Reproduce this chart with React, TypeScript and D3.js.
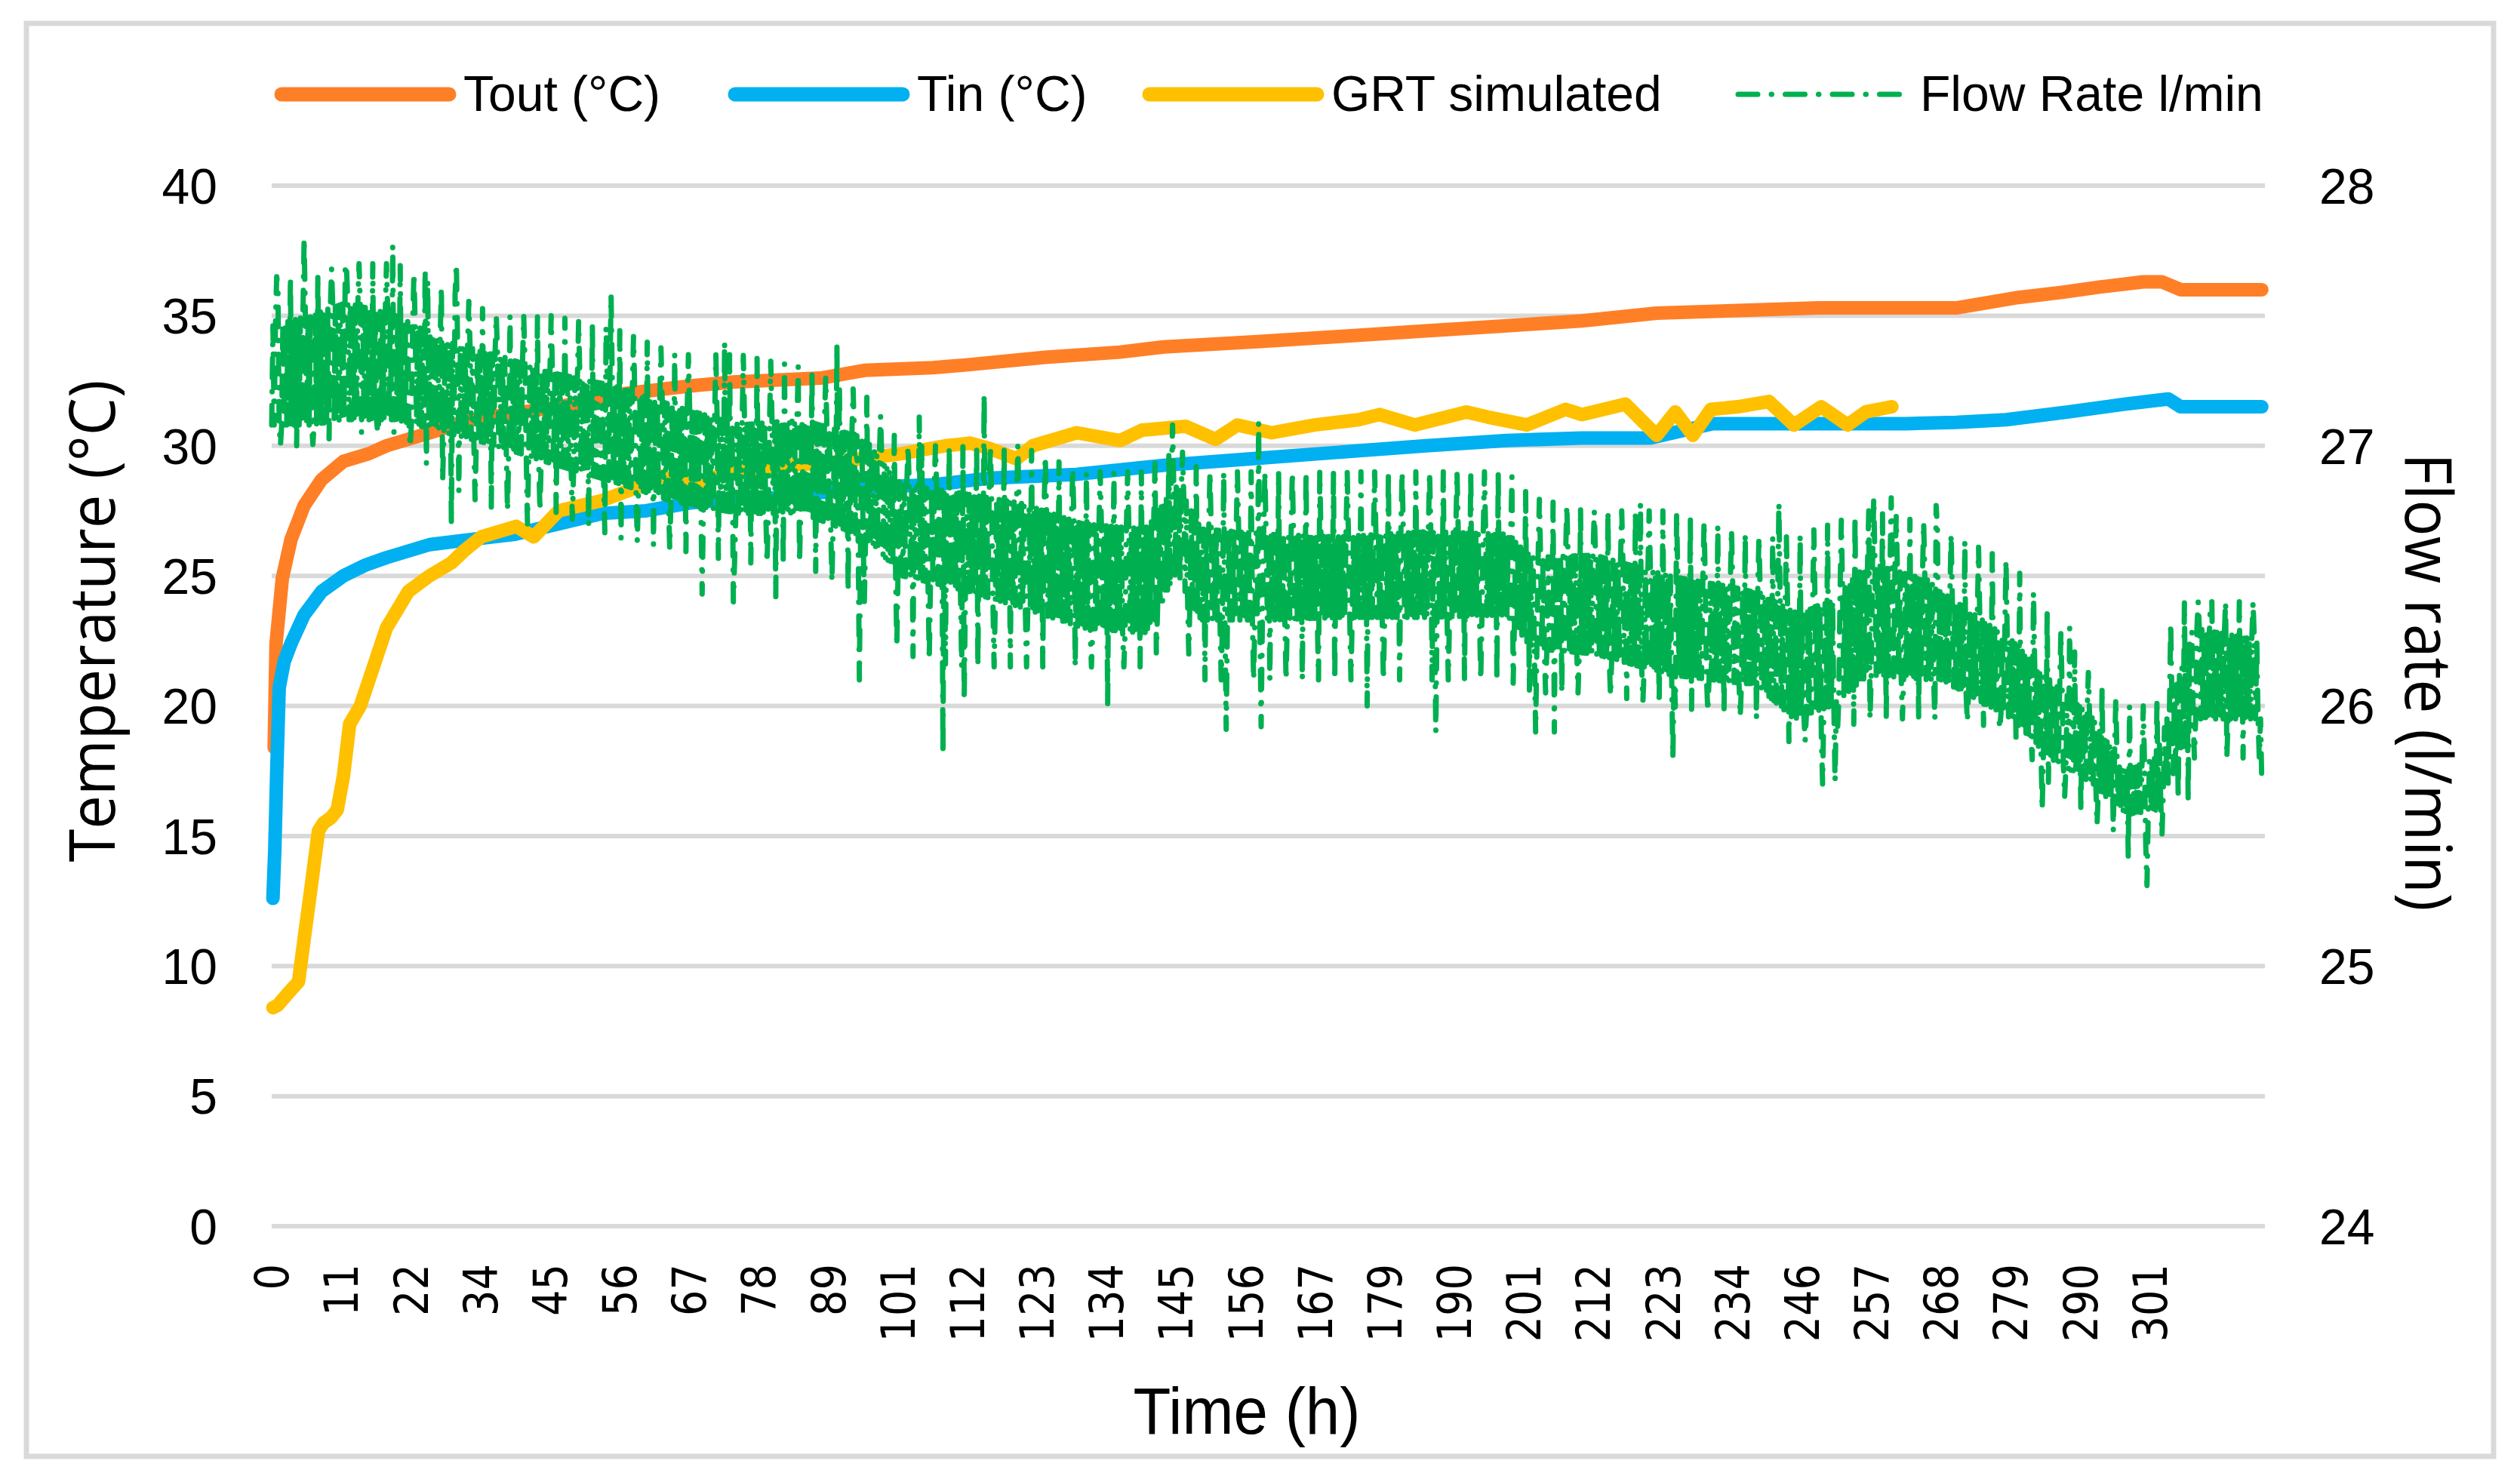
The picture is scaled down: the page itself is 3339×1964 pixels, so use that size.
import React, { useMemo } from 'react';
import * as d3 from 'd3';

const W = 3339;
const H = 1964;
const plot = { left: 360, right: 3001, top: 246, bottom: 1625 };

// category labels on the time axis (Excel prints one every ~11.15 h)
const timeLabels = ['0', '11', '22', '34', '45', '56', '67', '78', '89', '101', '112', '123', '134', '145', '156', '167', '179', '190', '201', '212', '223', '234', '246', '257', '268', '279', '290', '301'];
const labelStepHours = 11.15;
const timeEnd = 319.5;

const tempTicks = [0, 5, 10, 15, 20, 25, 30, 35, 40];
const flowTicks = [24, 25, 26, 27, 28];

// Tout (°C)
const toutTime = [0.4, 0.7, 1.7, 3.1, 5.2, 8, 11.5, 15.6, 18.4, 25.3, 32, 46, 56.5, 67, 74, 88, 95, 106, 111, 124, 136, 143, 158, 171, 184, 197, 210, 222, 235, 248, 260, 270, 275, 280, 287, 293, 300, 303, 306, 319];
const toutValue = [18.4, 22.4, 24.9, 26.4, 27.7, 28.7, 29.4, 29.7, 30.0, 30.5, 31.0, 31.5, 32.0, 32.3, 32.45, 32.6, 32.9, 33.0, 33.1, 33.4, 33.6, 33.8, 34.0, 34.2, 34.4, 34.6, 34.8, 35.1, 35.2, 35.3, 35.3, 35.3, 35.5, 35.7, 35.9, 36.1, 36.3, 36.3, 36.0, 36.0];

// Tin (°C)
const tinTime = [0.2, 0.5, 0.8, 1.2, 2, 3.1, 5.2, 8, 11.5, 14.9, 18.4, 25.3, 32, 39, 46, 53, 60, 67, 74, 81, 88, 95, 106, 115, 129, 143, 157, 171, 185, 198, 210, 221, 231, 248, 262, 270, 278, 288, 297, 304, 306, 319];
const tinValue = [12.6, 14.5, 17.4, 20.7, 21.7, 22.4, 23.5, 24.4, 25.0, 25.4, 25.7, 26.2, 26.4, 26.6, 27.0, 27.4, 27.5, 27.8, 27.95, 28.0, 28.2, 28.4, 28.5, 28.75, 28.9, 29.25, 29.5, 29.75, 30.0, 30.2, 30.3, 30.3, 30.85, 30.85, 30.85, 30.9, 31.0, 31.3, 31.6, 31.8, 31.5, 31.5];

// GRT simulated (°C)
const grtTime = [0.2, 1, 2.8, 4.3, 5.4, 6.3, 7.5, 8.3, 9.5, 10.5, 11.5, 12.5, 14.2, 16.3, 18.4, 21.9, 25.3, 28.8, 31, 33.6, 39.2, 42, 46, 53, 58.6, 61.4, 67, 73.8, 80.8, 91.2, 98, 101, 108, 112, 115, 119.4, 122, 129, 136, 139.5, 146.5, 151.3, 154.8, 160.3, 167.2, 174.2, 177.6, 183.2, 191.5, 195, 201.2, 207.4, 210, 217, 222, 225, 227.8, 230.7, 235, 240, 244, 248.4, 252.6, 255.5, 259.7];
const grtValue = [8.4, 8.5, 9.0, 9.4, 11.4, 13.0, 15.2, 15.5, 15.7, 16.0, 17.3, 19.3, 20.0, 21.5, 23.0, 24.4, 25.0, 25.5, 26.0, 26.5, 26.9, 26.5, 27.5, 27.9, 28.4, 28.9, 28.5, 29.0, 29.2, 29.4, 29.6, 29.7, 30.0, 30.1, 29.9, 29.5, 30.0, 30.5, 30.2, 30.6, 30.75, 30.25, 30.8, 30.5, 30.8, 31.0, 31.2, 30.8, 31.3, 31.1, 30.8, 31.4, 31.2, 31.6, 30.4, 31.3, 30.4, 31.4, 31.5, 31.7, 30.8, 31.5, 30.8, 31.3, 31.5];

// Flow rate (l/min): the readings swing between a low and a high band (core),
// with regular excursions out to a wider outer band
const flowTime = [0, 6, 12, 20, 28, 36, 45, 55, 65, 75, 85, 95, 101, 110, 120, 130, 140, 145, 149, 160, 171, 185, 198, 202, 212, 224, 238, 244, 250, 256, 266, 270, 279, 285, 292, 297, 302, 305, 308, 319];
const flowLow = [27.08, 27.08, 27.10, 27.10, 27.05, 27.00, 26.93, 26.86, 26.78, 26.74, 26.74, 26.65, 26.50, 26.45, 26.38, 26.30, 26.28, 26.50, 26.33, 26.33, 26.34, 26.34, 26.35, 26.22, 26.20, 26.12, 26.08, 25.95, 26.00, 26.12, 26.10, 26.07, 25.95, 25.80, 25.70, 25.58, 25.60, 25.75, 25.95, 25.95];
const flowHigh = [27.46, 27.50, 27.55, 27.50, 27.40, 27.35, 27.28, 27.23, 27.15, 27.08, 27.10, 27.03, 26.85, 26.82, 26.78, 26.70, 26.68, 26.86, 26.68, 26.66, 26.65, 26.67, 26.66, 26.57, 26.58, 26.50, 26.44, 26.36, 26.40, 26.55, 26.48, 26.40, 26.25, 26.10, 25.95, 25.75, 25.80, 26.05, 26.30, 26.25];
const flowOuterLow = [27.00, 27.00, 27.05, 27.05, 26.85, 26.75, 26.75, 26.65, 26.60, 26.55, 26.55, 26.40, 26.20, 26.15, 26.15, 26.15, 26.15, 26.30, 26.10, 26.10, 26.10, 26.10, 26.10, 26.05, 26.05, 26.00, 25.95, 25.85, 25.90, 25.95, 25.95, 25.95, 25.90, 25.70, 25.55, 25.50, 25.45, 25.60, 25.80, 25.80];
const flowOuterHigh = [27.65, 27.65, 27.70, 27.70, 27.60, 27.50, 27.50, 27.45, 27.35, 27.35, 27.30, 27.20, 27.00, 27.00, 27.00, 26.90, 26.90, 27.00, 26.90, 26.90, 26.90, 26.90, 26.90, 26.80, 26.75, 26.75, 26.65, 26.65, 26.70, 26.75, 26.70, 26.65, 26.55, 26.35, 26.10, 26.00, 26.00, 26.40, 26.40, 26.40];
// isolated flow readings well outside the band
const flowSpikeTime = [1.0, 5.2, 12.0, 19.4, 24.5, 29.6, 54.4, 72.5, 90.5, 28.8, 41, 69, 74, 80.8, 94.3, 103.8, 114.2, 144.4, 158.2, 107.5, 111.1, 134, 153, 158.6, 175.6, 186.5, 202.6, 205.7, 219.3, 241.7, 256.9, 259.7, 266.8, 288.1, 310.8, 224.6, 248.7, 250.5, 283.8, 300.5, 297.7, 319, 307.2];
const flowSpikeValue = [27.60, 27.80, 27.68, 27.77, 27.68, 27.70, 27.58, 27.40, 27.39, 26.70, 26.70, 26.43, 26.40, 26.42, 26.10, 27.11, 27.20, 27.08, 27.09, 25.82, 26.02, 26.00, 25.91, 25.92, 26.00, 25.90, 25.90, 25.90, 26.78, 26.78, 26.80, 26.80, 26.77, 26.30, 26.40, 25.80, 25.70, 25.71, 25.60, 25.31, 25.41, 25.71, 25.63];
const flowSampleHours = 0.2;

const legendLabels = ['Tout (°C)', 'Tin (°C)', 'GRT simulated', 'Flow Rate l/min'];
const legendColors = ['#FF7F27', '#00B0F0', '#FFC000', '#00B050'];
const legendStarts = [373, 974, 1523, 2303];

const tickFont = "'Liberation Sans', Arial, sans-serif";
const titleFont = "'Open Sans', 'DejaVu Sans', sans-serif";
const grid = '#D9D9D9';
const flowDash = '26 18 0.5 18';

const App: React.FC = () => {
  const x = d3.scaleLinear().domain([0, timeEnd]).range([plot.left, plot.right]);
  const yT = d3.scaleLinear().domain([0, 40]).range([plot.bottom, plot.top]);
  const yF = d3.scaleLinear().domain([24, 28]).range([plot.bottom, plot.top]);

  const tempPath = (time: number[], vals: number[]) =>
    d3.line<number>().x((_, i) => x(time[i])).y(v => yT(v))(vals) || '';

  const flowPath = useMemo(() => {
    const lowAt = d3.scaleLinear().domain(flowTime).range(flowLow);
    const highAt = d3.scaleLinear().domain(flowTime).range(flowHigh);
    const outLowAt = d3.scaleLinear().domain(flowTime).range(flowOuterLow);
    const outHighAt = d3.scaleLinear().domain(flowTime).range(flowOuterHigh);
    const times = d3.range(0, flowTime[flowTime.length - 1] + 0.001, flowSampleHours);
    const vals = times.map((t, i) => {
      if (i % 11 === 4) return outHighAt(t);
      if (i % 13 === 7) return outLowAt(t);
      return i % 2 ? highAt(t) : lowAt(t);
    });
    flowSpikeTime.forEach((t, k) => {
      const i = Math.round(t / flowSampleHours);
      if (i < vals.length) vals[i] = flowSpikeValue[k];
    });
    return d3.line<number>().x((_, i) => x(times[i])).y(v => yF(v))(vals) || '';
  }, []);

  return (
    <div>
      <style>{'body{margin:0}'}</style>
      <svg width={W} height={H} style={{ display: 'block', background: '#fff' }}>
        <rect x={35} y={31} width={3269} height={1899} fill="#fff" stroke={grid} strokeWidth={7} />

        {/* gridlines */}
        {tempTicks.map(t => (
          <line key={t} x1={plot.left} x2={plot.right} y1={yT(t)} y2={yT(t)} stroke={grid} strokeWidth={6} />
        ))}

        {/* left ticks */}
        {tempTicks.map(t => (
          <text key={t} x={288} y={yT(t)} dy="0.36em" textAnchor="end" fontFamily={tickFont} fontSize={66} fill="#000">{t}</text>
        ))}
        {/* right ticks */}
        {flowTicks.map(t => (
          <text key={t} x={3073} y={yF(t)} dy="0.36em" textAnchor="start" fontFamily={tickFont} fontSize={66} fill="#000">{t}</text>
        ))}

        {/* time labels */}
        {timeLabels.map((lab, i) => (
          <text
            key={lab}
            transform={`translate(${x(i * labelStepHours)}, 1675) rotate(-90)`}
            dy="0.36em"
            textAnchor="end"
            fontFamily="'DejaVu Sans', Verdana, sans-serif"
            fontSize={62}
            textLength={lab.length * 34.5}
            lengthAdjust="spacingAndGlyphs"
            fill="#000"
          >{lab}</text>
        ))}

        {/* axis titles */}
        <text transform="translate(152, 823) rotate(-90)" textAnchor="middle" fontFamily={titleFont} fontSize={84} textLength={639} lengthAdjust="spacingAndGlyphs" fill="#000">Temperature (°C)</text>
        <text transform="translate(3187, 904) rotate(90)" textAnchor="middle" fontFamily={titleFont} fontSize={86} textLength={607} lengthAdjust="spacingAndGlyphs" fill="#000">Flow rate (l/min)</text>
        <text x={1652} y={1900} textAnchor="middle" fontFamily={tickFont} fontSize={88} textLength={301} lengthAdjust="spacingAndGlyphs" fill="#000">Time (h)</text>

        {/* series */}
        <path d={tempPath(toutTime, toutValue)} fill="none" stroke={legendColors[0]} strokeWidth={18} strokeLinejoin="round" strokeLinecap="round" />
        <path d={tempPath(tinTime, tinValue)} fill="none" stroke={legendColors[1]} strokeWidth={18} strokeLinejoin="round" strokeLinecap="round" />
        <path d={tempPath(grtTime, grtValue)} fill="none" stroke={legendColors[2]} strokeWidth={18} strokeLinejoin="round" strokeLinecap="round" />
        <path d={flowPath} fill="none" stroke={legendColors[3]} strokeWidth={7} strokeDasharray={flowDash} strokeLinecap="round" strokeLinejoin="round" />

        {/* legend */}
        {legendLabels.map((lab, i) => (
          <g key={lab}>
            <line
              x1={legendStarts[i]}
              x2={legendStarts[i] + 222}
              y1={125}
              y2={125}
              stroke={legendColors[i]}
              strokeWidth={i === 3 ? 7 : 19}
              strokeLinecap="round"
              strokeDasharray={i === 3 ? flowDash : undefined}
            />
            <text x={legendStarts[i] + 241} y={147} fontFamily={tickFont} fontSize={66} fill="#000">{lab}</text>
          </g>
        ))}
      </svg>
    </div>
  );
};

export default App;
